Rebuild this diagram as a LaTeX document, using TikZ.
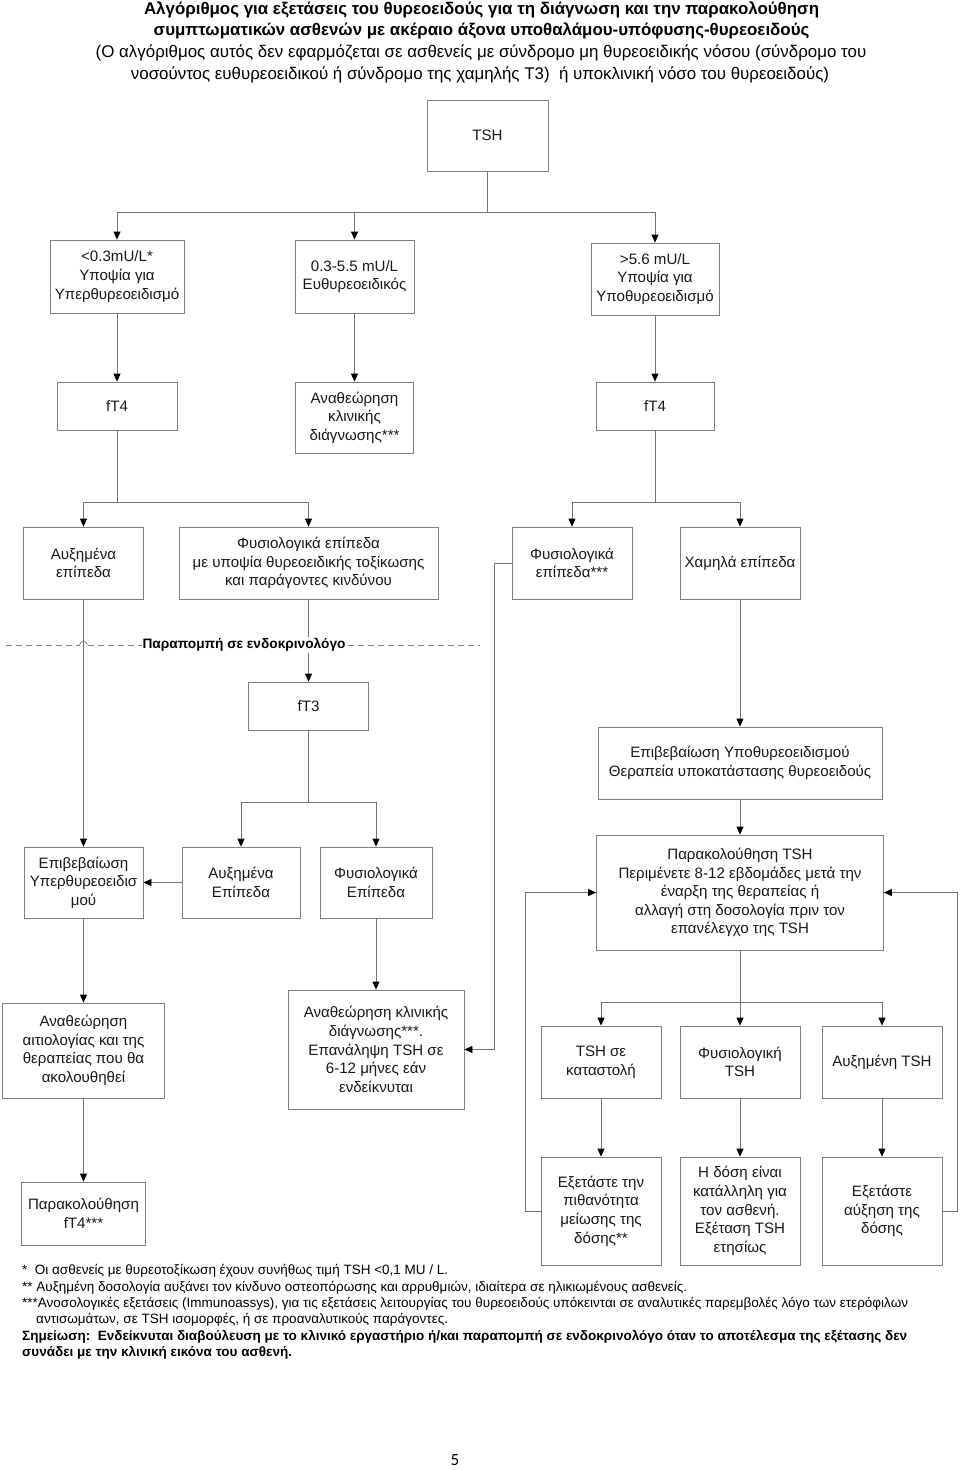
\documentclass[tikz,border=0pt]{standalone}
\usepackage{fontspec}
\setmainfont{Liberation Sans}
\newfontfamily\pagefont{Carlito}
\usetikzlibrary{arrows.meta,calc}
\begin{document}
\begin{tikzpicture}[x=1pt,y=-1pt,
  box/.style={draw=black!50,line width=0.8pt,align=center,inner sep=1pt,
    font=\fontsize{15.1}{18.6}\selectfont,text=black!90},
  wh/.style 2 args={minimum width=#1pt,minimum height=#2pt},
  ln/.style={draw=black!55,line width=0.8pt},
  arr/.style={ln,-{Triangle[length=8pt,width=7pt,color=black]}},
  dsh/.style={draw=black!50,line width=0.7pt,dash pattern=on 6pt off 4pt},
  ttl/.style={font=\fontsize{16.9}{20}\selectfont,anchor=base,inner sep=0pt},
  fn/.style={font=\fontsize{13.5}{16}\selectfont,anchor=base west,inner sep=0pt},
  fnb/.style={fn,font=\fontsize{13.5}{16}\selectfont\bfseries},
]
\fill[white] (0,0) rectangle (960,1470);
\useasboundingbox (0,0) rectangle (960,1470);

% title
\node[ttl] (t1) at (481.5,14) {\bfseries Αλγόριθμος για εξετάσεις του θυρεοειδούς για τη διάγνωση και την παρακολούθηση};
\node[ttl] (t2) at (481.5,35) {\bfseries συμπτωματικών ασθενών με ακέραιο άξονα υποθαλάμου-υπόφυσης-θυρεοειδούς};
\node[ttl] (t3) at (481,57.5) {(Ο αλγόριθμος αυτός δεν εφαρμόζεται σε ασθενείς με σύνδρομο μη θυρεοειδικής νόσου (σύνδρομο του};
\node[ttl] (t4) at (480,79.5) {νοσούντος ευθυρεοειδικού ή σύνδρομο της χαμηλής Τ3)\ \ ή υποκλινική νόσο του θυρεοειδούς)};

% boxes
\node[box,wh={121}{71}] (tsh) at (487.5,135.5) {TSH};
\node[box,wh={134}{73}] (b1) at (117,276.5) {<0.3mU/L*\\Υποψία για\\Υπερθυρεοειδισμό};
\node[box,wh={119}{73}] (b2) at (354.5,276.5) {0.3-5.5 mU/L\\Ευθυρεοειδικός};
\node[box,wh={128}{72}] (b3) at (655,279) {>5.6 mU/L\\Υποψία για\\Υποθυρεοειδισμό};

\node[box,wh={120}{48}] (f4a) at (117,406) {fT4};
\node[box,wh={118}{71}] (rev1) at (354.5,417.5) {Αναθεώρηση\\κλινικής\\διάγνωσης***};
\node[box,wh={118}{48}] (f4b) at (655,406) {fT4};

\node[box,wh={120}{72}] (c1) at (83.5,563) {Αυξημένα\\επίπεδα};
\node[box,wh={259}{72}] (c2) at (308.5,563) {Φυσιολογικά επίπεδα\\με υποψία θυρεοειδικής τοξίκωσης\\και παράγοντες κινδύνου};
\node[box,wh={120}{72}] (c3) at (572,563) {Φυσιολογικά\\επίπεδα***};
\node[box,wh={120}{72}] (c4) at (740,563) {Χαμηλά επίπεδα};

\node[box,wh={120}{48}] (ft3) at (308.5,706) {fT3};
\node[box,wh={284}{72}] (hypo) at (740,763) {Επιβεβαίωση Υποθυρεοειδισμού\\Θεραπεία υποκατάστασης θυρεοειδούς};

\node[box,wh={119}{71}] (d1) at (83.5,882.5) {Επιβεβαίωση\\Υπερθυρεοειδισ\\μού};
\node[box,wh={118}{71}] (d2) at (241,882.5) {Αυξημένα\\Επίπεδα};
\node[box,wh={112}{71}] (d3) at (376,882.5) {Φυσιολογικά\\Επίπεδα};
\node[box,wh={287}{115}] (mon) at (740,892.5) {Παρακολούθηση TSH\\Περιμένετε 8-12 εβδομάδες μετά την\\έναρξη της θεραπείας ή\\αλλαγή στη δοσολογία πριν τον\\επανέλεγχο της TSH};

\node[box,wh={162}{95}] (e1) at (83.5,1050.5) {Αναθεώρηση\\αιτιολογίας και της\\θεραπείας που θα\\ακολουθηθεί};
\node[box,wh={176}{119}] (e2) at (376,1049.5) {Αναθεώρηση κλινικής\\διάγνωσης***.\\Επανάληψη TSH σε\\6-12 μήνες εάν\\ενδείκνυται};
\node[box,wh={120}{72}] (e3) at (601,1062) {TSH σε\\καταστολή};
\node[box,wh={120}{72}] (e4) at (740,1062) {Φυσιολογική\\TSH};
\node[box,wh={120}{72}] (e5) at (882,1062) {Αυξημένη TSH};

\node[box,wh={124}{63}] (f1) at (83.5,1213.5) {Παρακολούθηση\\fT4***};
\node[box,wh={120}{108}] (f2) at (601,1211) {Εξετάστε την\\πιθανότητα\\μείωσης της\\δόσης**};
\node[box,wh={120}{108}] (f3) at (740,1211) {Η δόση είναι\\κατάλληλη για\\τον ασθενή.\\Εξέταση TSH\\ετησίως};
\node[box,wh={120}{108}] (f4) at (882,1211) {Εξετάστε\\αύξηση της\\δόσης};

% connectors
\coordinate (j1) at (489,212);
\draw[ln] (tsh.south) -- (tsh.south|-j1);
\draw[arr] (tsh.south|-j1) -| (b1.north);
\draw[arr] (tsh.south|-j1) -| (b2.north);
\draw[arr] (tsh.south|-j1) -| (b3.north);

\draw[arr] (b1.south) -- (f4a.north);
\draw[arr] (b2.south) -- (rev1.north);
\draw[arr] (b3.south) -- (f4b.north);

\coordinate (j2) at (117,502);
\draw[ln] (f4a.south) -- (f4a.south|-j2);
\draw[arr] (f4a.south|-j2) -| (c1.north);
\draw[arr] (f4a.south|-j2) -| (c2.north);
\coordinate (j3) at (655,502);
\draw[ln] (f4b.south) -- (f4b.south|-j3);
\draw[arr] (f4b.south|-j3) -| (c3.north);
\draw[arr] (f4b.south|-j3) -| (c4.north);

\draw[arr] (c3.west) -- ++(-17,0) |- (e2.east);
\draw[arr] (c1.south) -- (d1.north);
\draw[arr] (c2.south) -- (ft3.north);
\draw[arr] (c4.south) -- (hypo.north);

\coordinate (j4) at (308.5,802);
\draw[ln] (ft3.south) -- (ft3.south|-j4);
\draw[arr] (ft3.south|-j4) -| (d2.north);
\draw[arr] (ft3.south|-j4) -| (d3.north);
\draw[arr] (d2.west) -- (d1.east);
\draw[arr] (d3.south) -- (e2.north);
\draw[arr] (d1.south) -- (e1.north);
\draw[arr] (e1.south) -- (f1.north);

\draw[arr] (hypo.south) -- (mon.north);
\coordinate (j5) at (740,1002);
\draw[ln] (mon.south) -- (mon.south|-j5);
\draw[arr] (mon.south|-j5) -| (e3.north);
\draw[arr] (mon.south|-j5) -| (e4.north);
\draw[arr] (mon.south|-j5) -| (e5.north);
\draw[arr] (e3.south) -- (f2.north);
\draw[arr] (e4.south) -- (f3.north);
\draw[arr] (e5.south) -- (f4.north);
\draw[arr] (f2.west) -- ++(-15,0) |- (mon.west);
\draw[arr] (f4.east) -- ++(15,0) |- (mon.east);

% referral dashed line with hop
\coordinate (da) at (6,645);
\coordinate (h1) at (79.5,645);
\coordinate (h2) at (87.5,645);
\coordinate (db) at (480,645);
\draw[dsh] (da) -- (h1);
\draw[draw=black!50,line width=0.7pt] (h1) .. controls (80.5,640) and (86.5,640) .. (h2);
\draw[dsh] (h2) -- (db);
\node[fill=white,inner sep=1pt,font=\fontsize{13.7}{15}\selectfont\bfseries] (ref) at (244,645) {Παραπομπή σε ενδοκρινολόγο};

% footnotes
\node[fn] (n1) at (22,1274) {*\ \ Οι ασθενείς με θυρεοτοξίκωση έχουν συνήθως τιμή TSH <0,1 MU / L.};
\node[fn] (n2) at (22,1291) {** Αυξημένη δοσολογία αυξάνει τον κίνδυνο οστεοπόρωσης και αρρυθμιών, ιδιαίτερα σε ηλικιωμένους ασθενείς.};
\node[fn] (n3) at (22,1307) {***Ανοσολογικές εξετάσεις (Immunoassys), για τις εξετάσεις λειτουργίας του θυρεοειδούς υπόκεινται σε αναλυτικές παρεμβολές λόγο των ετερόφιλων};
\node[fn] (n4) at (36,1323) {αντισωμάτων, σε TSH ισομορφές, ή σε προαναλυτικούς παράγοντες.};
\node[fnb] (n5) at (22,1340) {Σημείωση:\ \ Ενδείκνυται διαβούλευση με το κλινικό εργαστήριο ή/και παραπομπή σε ενδοκρινολόγο όταν το αποτέλεσμα της εξέτασης δεν};
\node[fnb] (n6) at (22,1356) {συνάδει με την κλινική εικόνα του ασθενή.};

\node[font=\pagefont\fontsize{17}{20}\selectfont,inner sep=0pt] (pg) at (455,1460) {5};
\end{tikzpicture}
\end{document}
